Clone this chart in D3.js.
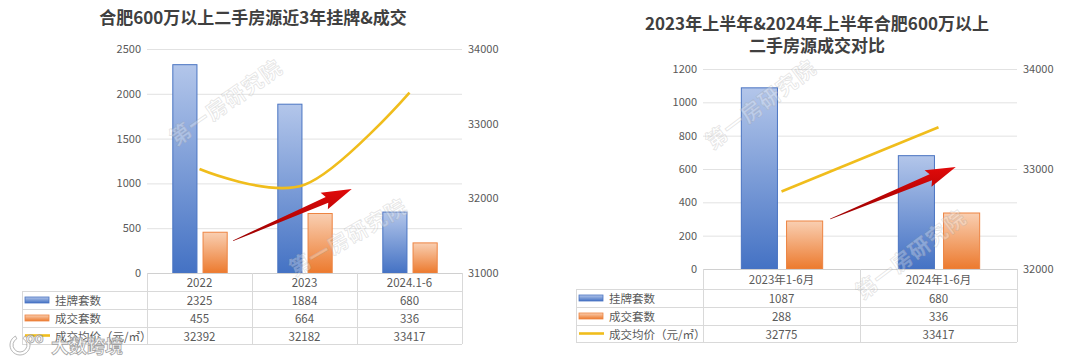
<!DOCTYPE html>
<html>
<head>
<meta charset="utf-8">
<script src="https://cdn.jsdelivr.net/npm/d3@7"></script>
<style>
  body { margin: 0; background: #fff; }
  svg { display: block; font-family: "Noto Sans CJK SC", "Noto Sans", sans-serif; }
</style>
</head>
<body>
<svg id="chart" width="1080" height="360"></svg>
<script>
/* globals d3 */

// ---- data ----
const seriesNames = ['挂牌套数', '成交套数', '成交均价（元/㎡）'];

const leftTitle = ['合肥600万以上二手房源近3年挂牌&成交'];
const leftCategories = ['2022', '2023', '2024.1-6'];
const leftListings = [2325, 1884, 680];
const leftDeals = [455, 664, 336];
const leftPrice = [32392, 32182, 33417];
const leftCountTicks = [0, 500, 1000, 1500, 2000, 2500];
const leftPriceTicks = [31000, 32000, 33000, 34000];

const rightTitle = ['2023年上半年&2024年上半年合肥600万以上', '二手房源成交对比'];
const rightCategories = ['2023年1-6月', '2024年1-6月'];
const rightListings = [1087, 680];
const rightDeals = [288, 336];
const rightPrice = [32775, 33417];
const rightCountTicks = [0, 200, 400, 600, 800, 1000, 1200];
const rightPriceTicks = [32000, 33000, 34000];

const watermarkText = '第一房研究院';

// ---- colours ----
const textColor = '#595959';
const gridColor = '#e2e2e2';
const tableColor = '#d9d9d9';
const lineColor = '#f0bd1c';

const svg = d3.select('#chart');
const defs = svg.append('defs');

function addGradient (id, top, bottom) {
  const g = defs.append('linearGradient')
    .attr('id', id)
    .attr('x1', 0).attr('y1', 0).attr('x2', 0).attr('y2', 1);
  g.append('stop').attr('offset', '0%').attr('stop-color', top);
  g.append('stop').attr('offset', '100%').attr('stop-color', bottom);
}
addGradient('blueGrad', '#b3c6ea', '#4472c4');
addGradient('orangeGrad', '#f9cfb2', '#ec7a2e');
addGradient('arrowGrad', '#e00a0a', '#9a0000');

function arrowPath (x0, y0, x1, y1) {
  const dx = x1 - x0;
  const dy = y1 - y0;
  const len = Math.hypot(dx, dy);
  const ux = dx / len;
  const uy = dy / len;
  const nx = -uy;
  const ny = ux;
  const headLen = 27;
  const headW = 9;
  const shaftW = 3.2;
  const tailW = 0.4;
  const bx = x1 - ux * headLen;
  const by = y1 - uy * headLen;
  const pts = [
    [x0 + nx * tailW, y0 + ny * tailW],
    [bx + nx * shaftW, by + ny * shaftW],
    [bx - ux * 3 + nx * headW, by - uy * 3 + ny * headW],
    [x1, y1],
    [bx - ux * 3 - nx * headW, by - uy * 3 - ny * headW],
    [bx - nx * shaftW, by - ny * shaftW],
    [x0 - nx * tailW, y0 - ny * tailW]
  ];
  return 'M' + pts.map(p => p.join(',')).join('L') + 'Z';
}

function watermark (g, x, y, angle) {
  g.append('text')
    .attr('transform', `translate(${x},${y}) rotate(${angle})`)
    .attr('text-anchor', 'middle')
    .attr('dominant-baseline', 'middle')
    .style('font-size', '21px')
    .style('font-weight', 'bold')
    .style('fill', 'rgba(255,255,255,0.3)')
    .style('stroke', 'rgba(150,150,150,0.25)')
    .style('stroke-width', 0.9)
    .style('letter-spacing', '1px')
    .text(watermarkText);
}

function drawPanel (p) {
  const g = svg.append('g');

  // title
  p.title.forEach((t, i) => {
    g.append('text')
      .attr('x', p.titleX)
      .attr('y', p.titleY[i])
      .attr('text-anchor', 'middle')
      .style('font-size', '17px')
      .style('font-weight', 'bold')
      .style('fill', '#404040')
      .text(t);
  });

  const x = d3.scaleBand().domain(p.categories).range([p.plotL, p.plotR]);
  const y = d3.scaleLinear().domain(d3.extent(p.countTicks)).range([p.plotB, p.plotT]);
  const y2 = d3.scaleLinear().domain(d3.extent(p.priceTicks)).range([p.plotB, p.plotT]);

  // gridlines
  g.append('g').selectAll('line')
    .data(p.countTicks.filter(d => d > 0))
    .join('line')
    .attr('x1', p.plotL).attr('x2', p.plotR)
    .attr('y1', d => y(d) + 0.5).attr('y2', d => y(d) + 0.5)
    .attr('stroke', gridColor);

  // axes (labels only)
  const axL = g.append('g')
    .attr('transform', `translate(${p.plotL - 4},0)`)
    .call(d3.axisLeft(y).tickValues(p.countTicks).tickFormat(d3.format('d')).tickSize(0).tickPadding(2));
  const axR = g.append('g')
    .attr('transform', `translate(${p.plotR + 4},0)`)
    .call(d3.axisRight(y2).tickValues(p.priceTicks).tickFormat(d3.format('d')).tickSize(0).tickPadding(2));
  [axL, axR].forEach(ax => {
    ax.select('.domain').remove();
    ax.selectAll('text')
      .style('font-family', '"Noto Sans CJK SC", sans-serif')
      .style('font-size', '11px')
      .style('fill', textColor);
  });

  // bars
  const bw = x.bandwidth();
  const barW = bw * 0.23;
  const gap = bw * 0.058;
  const blueX = c => x(c) + bw / 2 - gap / 2 - barW + 0.5;
  const orangeX = c => x(c) + bw / 2 + gap / 2 + 0.5;
  const bars = [
    { values: p.listings, pos: blueX, fill: 'url(#blueGrad)', stroke: '#4a74c2' },
    { values: p.deals, pos: orangeX, fill: 'url(#orangeGrad)', stroke: '#ed8442' }
  ];
  bars.forEach(s => {
    g.append('g').selectAll('rect')
      .data(p.categories)
      .join('rect')
      .attr('x', d => s.pos(d))
      .attr('width', barW)
      .attr('y', (d, i) => y(s.values[i]))
      .attr('height', (d, i) => p.plotB - y(s.values[i]))
      .attr('fill', s.fill)
      .attr('stroke', s.stroke)
      .attr('stroke-width', 1);
  });

  // price line
  const line = d3.line()
    .x((d, i) => x(p.categories[i]) + bw / 2)
    .y(d => y2(d))
    .curve(d3.curveCardinal.tension(0));
  g.append('path')
    .datum(p.price)
    .attr('d', line)
    .attr('fill', 'none')
    .attr('stroke', lineColor)
    .attr('stroke-width', 2.6);

  // red arrow annotation
  const a = p.arrow;
  const ax0 = x(p.categories[a.fromCat]) + bw * a.fromOffset;
  const ay0 = y(a.fromValue);
  const ax1 = x(p.categories[a.toCat]) + bw * a.toOffset;
  const ay1 = y(a.toValue);
  g.append('path')
    .attr('d', arrowPath(ax0, ay0, ax1, ay1))
    .attr('fill', 'url(#arrowGrad)');

  // data table
  const tb = g.append('g');
  const rowY = [p.plotB];
  p.rowH.forEach(h => rowY.push(rowY[rowY.length - 1] + h));
  const bottom = rowY[rowY.length - 1];
  rowY.forEach((ry, i) => {
    tb.append('line')
      .attr('x1', i === 0 ? p.plotL : p.tableL).attr('x2', p.plotR)
      .attr('y1', ry + 0.5).attr('y2', ry + 0.5)
      .attr('stroke', i === 0 ? '#d0d0d0' : tableColor);
  });
  tb.append('line')
    .attr('x1', p.tableL + 0.5).attr('x2', p.tableL + 0.5)
    .attr('y1', rowY[1]).attr('y2', bottom)
    .attr('stroke', tableColor);
  const colEdges = p.categories.map(c => x(c)).concat([p.plotR]);
  colEdges.forEach(cx => {
    tb.append('line')
      .attr('x1', cx + 0.5).attr('x2', cx + 0.5)
      .attr('y1', rowY[0]).attr('y2', bottom)
      .attr('stroke', tableColor);
  });

  const rows = [p.categories, p.listings, p.deals, p.price];
  rows.forEach((vals, r) => {
    tb.append('g').selectAll('text')
      .data(vals)
      .join('text')
      .attr('x', (d, i) => x(p.categories[i]) + bw / 2)
      .attr('y', (rowY[r] + rowY[r + 1]) / 2)
      .attr('text-anchor', 'middle')
      .attr('dominant-baseline', 'central')
      .style('font-size', '11.5px')
      .style('fill', textColor)
      .text(d => d);
  });

  // legend keys in table
  seriesNames.forEach((name, r) => {
    const cy = (rowY[r + 1] + rowY[r + 2]) / 2;
    const sx = p.tableL + 3;
    if (r < 2) {
      tb.append('rect')
        .attr('x', sx).attr('y', cy - 3)
        .attr('width', 24).attr('height', 6)
        .attr('fill', r === 0 ? 'url(#blueGrad)' : 'url(#orangeGrad)')
        .attr('stroke', r === 0 ? '#4a74c2' : '#ed8442')
        .attr('stroke-width', 0.8);
    } else {
      tb.append('line')
        .attr('x1', sx).attr('x2', sx + 25)
        .attr('y1', cy).attr('y2', cy)
        .attr('stroke', lineColor)
        .attr('stroke-width', 2.6);
    }
    tb.append('text')
      .attr('x', sx + 30)
      .attr('y', cy)
      .attr('dominant-baseline', 'central')
      .style('font-size', '11.5px')
      .style('fill', textColor)
      .text(name);
  });

  p.watermarks.forEach(w => watermark(g, w[0], w[1], w[2]));
}

drawPanel({
  title: leftTitle,
  titleX: 253,
  titleY: [24],
  categories: leftCategories,
  listings: leftListings,
  deals: leftDeals,
  price: leftPrice,
  countTicks: leftCountTicks,
  priceTicks: leftPriceTicks,
  plotL: 147,
  plotR: 462,
  plotT: 49,
  plotB: 273,
  tableL: 22,
  rowH: [18, 18, 18, 17],
  arrow: { fromCat: 0, fromOffset: 0.82, fromValue: 360, toCat: 1, toOffset: 0.95, toValue: 937 },
  watermarks: [[227, 104, -35], [349, 239, -30]]
});

drawPanel({
  title: rightTitle,
  titleX: 817,
  titleY: [30, 52],
  categories: rightCategories,
  listings: rightListings,
  deals: rightDeals,
  price: rightPrice,
  countTicks: rightCountTicks,
  priceTicks: rightPriceTicks,
  plotL: 703,
  plotR: 1017,
  plotT: 69,
  plotB: 269,
  tableL: 576,
  rowH: [20, 18, 18, 17],
  arrow: { fromCat: 0, fromOffset: 0.81, fromValue: 300, toCat: 1, toOffset: 0.61, toValue: 612 },
  watermarks: [[762, 106, -37], [912, 256, -37]]
});

// site logo overlay, bottom left
const logo = svg.append('g').style('opacity', 0.9);
logo.append('path')
  .attr('d', d3.arc()({ innerRadius: 7, outerRadius: 10, startAngle: Math.PI * 0.15, endAngle: Math.PI * 1.85 }))
  .attr('transform', 'translate(20,345)')
  .attr('fill', '#fff')
  .attr('stroke', '#9a9a9a')
  .attr('stroke-width', 0.8);
logo.append('text')
  .attr('x', 26).attr('y', 343)
  .style('font-size', '14px')
  .style('font-weight', 'bold')
  .style('fill', '#fff')
  .style('stroke', '#9a9a9a')
  .style('stroke-width', 0.8)
  .text('oo');
logo.append('text')
  .attr('x', 51).attr('y', 353)
  .style('font-size', '18px')
  .style('font-weight', 'bold')
  .style('fill', '#fff')
  .style('stroke', '#9a9a9a')
  .style('stroke-width', 0.8)
  .text('大数跨境');
</script>
</body>
</html>
